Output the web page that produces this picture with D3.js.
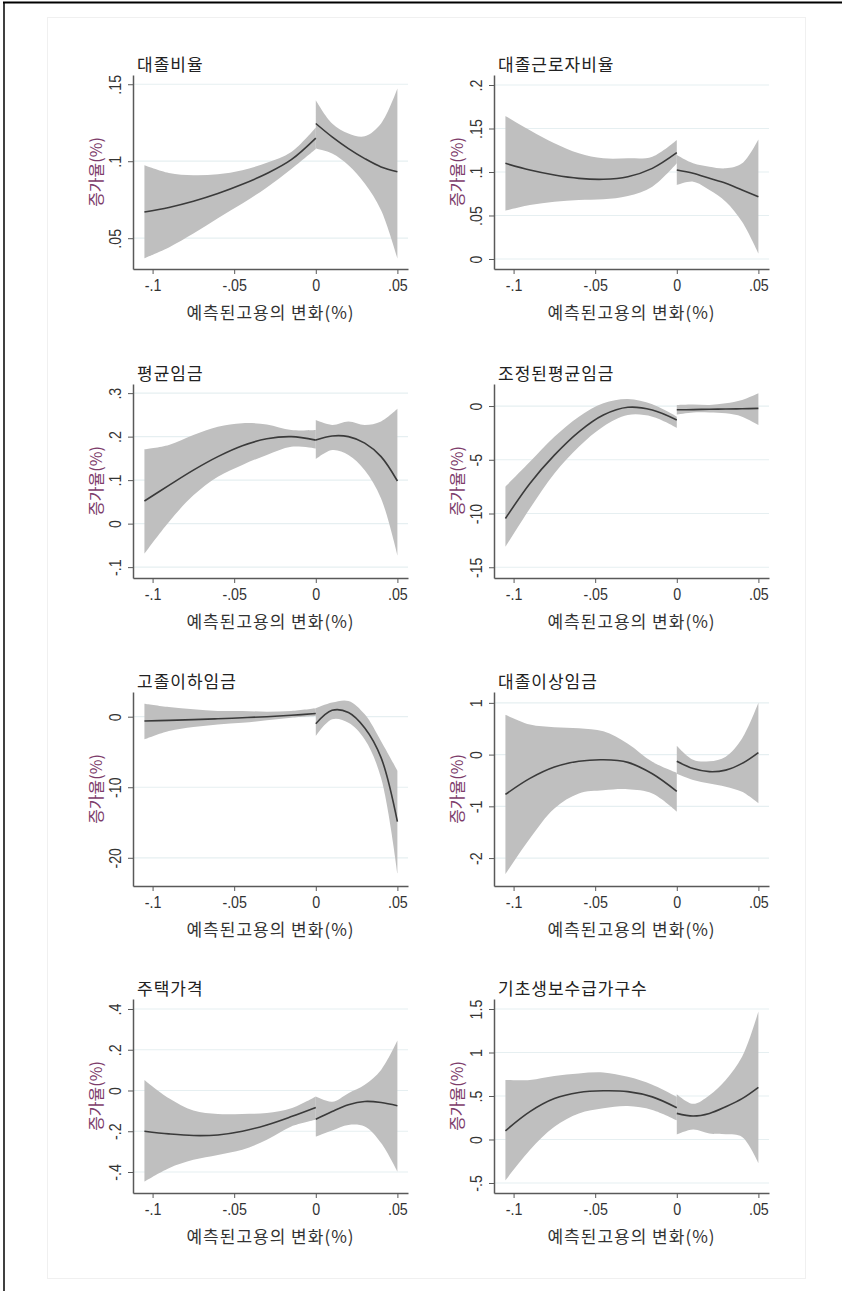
<!DOCTYPE html>
<html>
<head>
<meta charset="utf-8">
<script src="https://cdn.jsdelivr.net/npm/d3@7"></script>
<style>
  body { margin: 0; background: #fff; }
  svg { display: block; }
</style>
</head>
<body>
<svg id="vis" width="842" height="1291"></svg>
<script>
/**
 * Data: local fit + CI, left and right of the cutoff
 */
const xLeft  = [-0.105, -0.09, -0.075, -0.06, -0.045, -0.03, -0.015, 0];
const xRight = [0, 0.01, 0.02, 0.03, 0.04, 0.05];
const xTicks = [-0.1, -0.05, 0, 0.05];
const xTickLabels = ["-.1", "-.05", "0", ".05"];
const panelTitles = ["대졸비율", "대졸근로자비율", "평균임금", "조정된평균임금",
    "고졸이하임금", "대졸이상임금", "주택가격", "기초생보수급가구수"];
const xTitle = "예측된고용의 변화(%)";
const yTitle = "증가율(%)";

// 1. 대졸비율
const p1Ticks = [0.05, 0.1, 0.15];
const p1TickLabels = [".05", ".1", ".15"];
const p1FitL = [0.067, 0.070, 0.074, 0.079, 0.085, 0.092, 0.101, 0.115];
const p1HiL  = [0.0974, 0.0924, 0.0909, 0.0916, 0.0942, 0.099, 0.106, 0.1219];
const p1LoL  = [0.037, 0.044, 0.053, 0.063, 0.0725, 0.083, 0.095, 0.108];
const p1FitR = [0.1245, 0.1158, 0.1082, 0.1017, 0.0963, 0.0931];
const p1HiR  = [0.1396, 0.1245, 0.118, 0.1162, 0.1245, 0.1472];
const p1LoR  = [0.1082, 0.105, 0.0974, 0.0855, 0.0682, 0.0368];

// 2. 대졸근로자비율
const p2Ticks = [0, 0.05, 0.1, 0.15, 0.2];
const p2TickLabels = ["0", ".05", ".1", ".15", ".2"];
const p2FitL = [0.110, 0.1023, 0.0966, 0.0927, 0.0916, 0.0946, 0.1042, 0.1222];
const p2HiL  = [0.1644, 0.148, 0.133, 0.1215, 0.1157, 0.1157, 0.1176, 0.1368];
const p2LoL  = [0.0556, 0.062, 0.0659, 0.0678, 0.0686, 0.0724, 0.0831, 0.110];
const p2FitR = [0.1023, 0.0985, 0.0927, 0.087, 0.0793, 0.0716];
const p2HiR  = [0.1195, 0.110, 0.1061, 0.1042, 0.110, 0.1375];
const p2LoR  = [0.085, 0.0889, 0.0793, 0.0659, 0.0429, 0.0065];

// 3. 평균임금
const p3Ticks = [-0.1, 0, 0.1, 0.2, 0.3];
const p3TickLabels = ["-.1", "0", ".1", ".2", ".3"];
const p3FitL = [0.052, 0.088, 0.123, 0.154, 0.179, 0.195, 0.2, 0.192];
const p3HiL  = [0.171, 0.181, 0.204, 0.223, 0.231, 0.228, 0.215, 0.215];
const p3LoL  = [-0.069, 0.004, 0.065, 0.108, 0.135, 0.158, 0.177, 0.173];
const p3FitR = [0.192, 0.2015, 0.2, 0.185, 0.154, 0.098];
const p3HiR  = [0.238, 0.227, 0.235, 0.227, 0.235, 0.264];
const p3LoR  = [0.148, 0.169, 0.158, 0.123, 0.058, -0.073];

// 4. 조정된평균임금
const p4Ticks = [-15, -10, -5, 0];
const p4TickLabels = ["-15", "-10", "-5", "0"];
const p4FitL = [-10.47, -7.2, -4.57, -2.4, -0.84, -0.12, -0.37, -1.30];
const p4HiL  = [-7.5, -5.19, -2.86, -0.99, 0.25, 0.65, 0.16, -0.99];
const p4LoL  = [-13.1, -9.53, -6.27, -3.79, -1.9, -0.84, -0.99, -2.02];
const p4FitR = [-0.35, -0.33, -0.30, -0.28, -0.25, -0.22];
const p4HiR  = [0.1, 0.15, 0.1, 0.25, 0.56, 1.18];
const p4LoR  = [-0.78, -0.59, -0.59, -0.68, -0.99, -1.77];

// 5. 고졸이하임금
const p5Ticks = [-20, -10, 0];
const p5TickLabels = ["-20", "-10", "0"];
const p5FitL = [-0.62, -0.52, -0.42, -0.3, -0.15, 0.0, 0.2, 0.45];
const p5HiL  = [1.85, 1.38, 1.05, 0.81, 0.81, 0.71, 0.81, 1.19];
const p5LoL  = [-3.23, -2.04, -1.47, -1.09, -0.86, -0.52, -0.14, 0.1];
const p5FitR = [-1.0, 0.9, 0.6, -1.6, -5.8, -14.87];
const p5HiR  = [1.2, 2.0, 2.23, 0.33, -3.47, -7.65];
const p5LoR  = [-2.76, -0.38, -0.86, -3.23, -8.69, -22.2];

// 6. 대졸이상임금
const p6Ticks = [-2, -1, 0, 1];
const p6TickLabels = ["-2", "-1", "0", "1"];
const p6FitL = [-0.77, -0.46, -0.24, -0.13, -0.10, -0.15, -0.37, -0.71];
const p6HiL  = [0.77, 0.58, 0.53, 0.51, 0.45, 0.21, -0.14, -0.35];
const p6LoL  = [-2.31, -1.62, -1.04, -0.75, -0.69, -0.67, -0.75, -1.10];
const p6FitR = [-0.13, -0.27, -0.33, -0.30, -0.17, 0.04];
const p6HiR  = [0.17, -0.10, -0.13, -0.04, 0.31, 1.0];
const p6LoR  = [-0.37, -0.49, -0.56, -0.62, -0.72, -0.94];

// 7. 주택가격
const p7Ticks = [-0.4, -0.2, 0, 0.2, 0.4];
const p7TickLabels = ["-.4", "-.2", "0", ".2", ".4"];
const p7FitL = [-0.20, -0.213, -0.221, -0.218, -0.20, -0.169, -0.128, -0.083];
const p7HiL  = [0.052, -0.038, -0.098, -0.115, -0.115, -0.111, -0.087, -0.029];
const p7LoL  = [-0.447, -0.381, -0.34, -0.316, -0.291, -0.242, -0.177, -0.144];
const p7FitR = [-0.141, -0.103, -0.07, -0.054, -0.059, -0.075];
const p7HiR  = [-0.03, -0.055, -0.013, 0.028, 0.101, 0.245];
const p7LoR  = [-0.226, -0.196, -0.169, -0.177, -0.258, -0.398];

// 8. 기초생보수급가구수
const p8Ticks = [-0.5, 0, 0.5, 1, 1.5];
const p8TickLabels = ["-.5", "0", ".5", "1", "1.5"];
const p8FitL = [0.10, 0.32, 0.47, 0.54, 0.56, 0.55, 0.49, 0.365];
const p8HiL  = [0.685, 0.685, 0.73, 0.76, 0.77, 0.72, 0.63, 0.49];
const p8LoL  = [-0.47, -0.12, 0.146, 0.30, 0.36, 0.385, 0.34, 0.22];
const p8FitR = [0.30, 0.27, 0.30, 0.377, 0.47, 0.60];
const p8HiR  = [0.52, 0.41, 0.51, 0.685, 0.95, 1.47];
const p8LoR  = [0.058, 0.115, 0.07, 0.06, 0.03, -0.27];

/**
 * Layout
 */
const COLS = [133, 494];
const ROWS = [75, 384, 692, 999];
const PW = 275, PH = 194;
const X_DOMAIN = [-0.112, 0.0565];
const BAND = "#bfbfbf", LINE = "#3a3a3a", AXIS = "#595959", GRID = "#e6eff1";
const YTITLE_COL = "#7d3c6b";
const LATIN = "'Liberation Sans', Arial, sans-serif";
const HANGUL = "'Noto Sans CJK KR', 'Noto Sans', sans-serif";

const panels = [
    {ticks: p1Ticks, labels: p1TickLabels, domain: [0.030, 0.156], s: [p1FitL, p1HiL, p1LoL, p1FitR, p1HiR, p1LoR]},
    {ticks: p2Ticks, labels: p2TickLabels, domain: [-0.0115, 0.2115], s: [p2FitL, p2HiL, p2LoL, p2FitR, p2HiR, p2LoR]},
    {ticks: p3Ticks, labels: p3TickLabels, domain: [-0.125, 0.321], s: [p3FitL, p3HiL, p3LoL, p3FitR, p3HiR, p3LoR]},
    {ticks: p4Ticks, labels: p4TickLabels, domain: [-16.0, 2.05], s: [p4FitL, p4HiL, p4LoL, p4FitR, p4HiR, p4LoR]},
    {ticks: p5Ticks, labels: p5TickLabels, domain: [-24, 3.5], s: [p5FitL, p5HiL, p5LoL, p5FitR, p5HiR, p5LoR]},
    {ticks: p6Ticks, labels: p6TickLabels, domain: [-2.54, 1.21], s: [p6FitL, p6HiL, p6LoL, p6FitR, p6HiR, p6LoR]},
    {ticks: p7Ticks, labels: p7TickLabels, domain: [-0.503, 0.449], s: [p7FitL, p7HiL, p7LoL, p7FitR, p7HiR, p7LoR]},
    {ticks: p8Ticks, labels: p8TickLabels, domain: [-0.615, 1.615], s: [p8FitL, p8HiL, p8LoL, p8FitR, p8HiR, p8LoR]}
];

const svg = d3.select("#vis");

// page frame
svg.append("line").attr("x1", 3).attr("x2", 842).attr("y1", 2.5).attr("y2", 2.5)
    .attr("stroke", "#000").attr("stroke-width", 2);
svg.append("line").attr("x1", 4).attr("x2", 4).attr("y1", 2).attr("y2", 1291)
    .attr("stroke", "#000").attr("stroke-width", 1.5);
svg.append("rect").attr("x", 47.5).attr("y", 17.5).attr("width", 758).attr("height", 1261)
    .attr("fill", "none").attr("stroke", "#f0f0f0");

function drawPanel(p, i) {
    const left = COLS[i % 2], top = ROWS[Math.floor(i / 2)];
    const g = svg.append("g");
    const x = d3.scaleLinear().domain(X_DOMAIN).range([left, left + PW]);
    const y = d3.scaleLinear().domain(p.domain).range([top + PH, top]);

    // grid
    g.selectAll(".grid").data(p.ticks).enter().append("line")
        .attr("x1", left).attr("x2", left + PW)
        .attr("y1", d => y(d)).attr("y2", d => y(d))
        .attr("stroke", GRID).attr("stroke-width", 1.2);

    const segs = [
        {xs: xLeft, fit: p.s[0], hi: p.s[1], lo: p.s[2]},
        {xs: xRight, fit: p.s[3], hi: p.s[4], lo: p.s[5]}
    ];
    const curve = d3.curveCatmullRom.alpha(0.5);
    segs.forEach(sg => {
        const rows = sg.xs.map((v, k) => ({x: v, f: sg.fit[k], h: sg.hi[k], l: sg.lo[k]}));
        g.append("path").datum(rows)
            .attr("fill", BAND)
            .attr("d", d3.area().curve(curve).x(d => x(d.x)).y0(d => y(d.l)).y1(d => y(d.h)));
    });
    segs.forEach(sg => {
        const rows = sg.xs.map((v, k) => ({x: v, f: sg.fit[k]}));
        g.append("path").datum(rows)
            .attr("fill", "none").attr("stroke", LINE).attr("stroke-width", 1.6)
            .attr("d", d3.line().curve(curve).x(d => x(d.x)).y(d => y(d.f)));
    });

    // x axis
    const xa = g.append("g").attr("transform", `translate(0,${top + PH})`)
        .call(d3.axisBottom(x).tickValues(xTicks).tickSize(5).tickSizeOuter(0)
            .tickFormat((d, k) => xTickLabels[k]));
    // y axis
    const ya = g.append("g").attr("transform", `translate(${left},0)`)
        .call(d3.axisLeft(y).tickValues(p.ticks).tickSize(5).tickSizeOuter(0)
            .tickFormat((d, k) => p.labels[k]));
    [xa, ya].forEach(a => {
        a.select(".domain").attr("stroke", AXIS).attr("stroke-width", 1.5);
        a.selectAll(".tick line").attr("stroke", AXIS).attr("stroke-width", 1);
        a.selectAll("text").attr("fill", "#333").style("font-family", LATIN).style("font-size", "17px");
    });
    // narrow-looking numerals, as in the original export
    xa.selectAll(".tick text").attr("y", null).attr("dy", null)
        .attr("transform", "translate(0,22) scale(0.84,1)");
    ya.selectAll(".tick text")
        .attr("x", null).attr("dy", null)
        .attr("text-anchor", "middle")
        .attr("transform", "translate(-12,0) rotate(-90) scale(0.84,1)");

    // titles
    g.append("text").attr("x", left + 4).attr("y", top - 4)
        .style("font-family", HANGUL).style("font-size", "17px").style("letter-spacing", "1px")
        .attr("fill", "#222").text(panelTitles[i]);
    g.append("text")
        .attr("transform", `translate(${left + PW / 2},${top + PH + 50})`)
        .attr("text-anchor", "middle")
        .style("font-family", HANGUL).style("font-size", "17px").style("letter-spacing", "1px")
        .attr("fill", "#333").text(xTitle);
    g.append("text")
        .attr("transform", `translate(${left - 37},${top + PH / 2}) rotate(-90)`)
        .attr("text-anchor", "middle").attr("dy", "0.35em")
        .style("font-family", HANGUL).style("font-size", "16px")
        .attr("fill", YTITLE_COL).text(yTitle);
}

panels.forEach(drawPanel);
</script>
</body>
</html>
